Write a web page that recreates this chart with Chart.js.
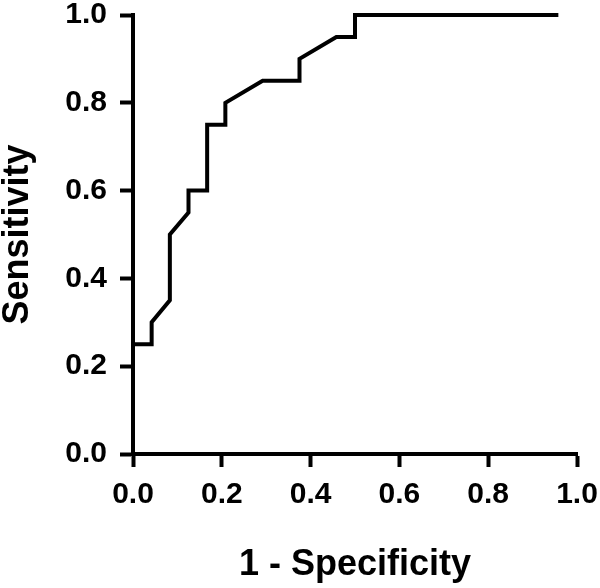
<!DOCTYPE html>
<html>
<head>
<meta charset="utf-8">
<script src="https://cdn.jsdelivr.net/npm/chart.js@4/dist/chart.umd.min.js"></script>
<style>
    body { margin: 0; background: #fff; }
</style>
</head>
<body>
<canvas id="roc" width="600" height="588"></canvas>
<script>
// ROC curve points
const fprValues = [0, 0.042, 0.042, 0.083, 0.083, 0.125, 0.125, 0.167, 0.167, 0.208, 0.208, 0.292, 0.375, 0.375, 0.458, 0.5, 0.5, 0.958];
const sensValues = [0.25, 0.25, 0.30, 0.35, 0.50, 0.55, 0.60, 0.60, 0.75, 0.75, 0.80, 0.85, 0.85, 0.90, 0.95, 0.95, 1.0, 1.0];
const tickLabels = ['0.0', '0.2', '0.4', '0.6', '0.8', '1.0'];
const xTitle = '1 - Specificity';
const yTitle = 'Sensitivity';

const fontFamily = "'Liberation Sans', Arial, sans-serif";

function makePoints() {
    return fprValues.map((x, i) => ({ x: x, y: sensValues[i] }));
}

function axisConfig(title, isX) {
    return {
        type: 'linear',
        min: 0,
        max: 1,
        border: { display: true, color: '#000', width: 4 },
        grid: {
            drawOnChartArea: false,
            drawTicks: true,
            tickLength: 13,
            tickWidth: 4,
            tickColor: '#000'
        },
        ticks: {
            stepSize: 0.2,
            color: '#000',
            padding: isX ? 10 : 13,
            maxRotation: 0,
            font: { family: fontFamily, size: 30, weight: 'bold' },
            callback: (v) => tickLabels[Math.round(v * 5)]
        },
        title: {
            display: true,
            text: title,
            color: '#000',
            font: { family: fontFamily, size: 36, weight: 'bold', lineHeight: 1.2 },
            padding: isX ? { top: 0, bottom: 1 } : { top: -4, bottom: 0 }
        },
        afterFit: (scale) => {
            // fixed axis sizes, no extra padding from the end labels
            if (isX) scale.height = 134;
            else scale.width = 133;
            scale.paddingTop = 0;
            scale.paddingBottom = 0;
            scale.paddingLeft = 0;
            scale.paddingRight = 0;
        }
    };
}

const config = {
    type: 'scatter',
    data: {
        datasets: [{
            data: makePoints(),
            showLine: true,
            borderColor: '#000',
            borderWidth: 4,
            pointRadius: 0,
            tension: 0,
            clip: false
        }]
    },
    options: {
        responsive: false,
        animation: false,
        layout: { padding: { top: 15, right: 23, left: 0, bottom: 0 } },
        plugins: { legend: { display: false }, tooltip: { enabled: false } },
        scales: {
            x: axisConfig(xTitle, true),
            y: axisConfig(yTitle, false)
        }
    }
};

new Chart(document.getElementById('roc'), config);
</script>
</body>
</html>
